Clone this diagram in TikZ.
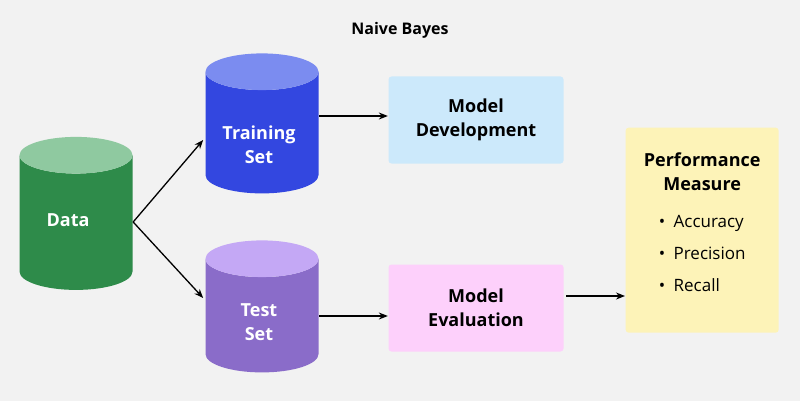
\documentclass[tikz,border=0pt]{standalone}
\usepackage{fontspec}
\setmainfont{Open Sans}
\usetikzlibrary{positioning,shapes.geometric,arrows.meta}
\definecolor{bgcol}{HTML}{F2F2F2}
\definecolor{datab}{HTML}{2E8B4A}
\definecolor{datat}{HTML}{8FC9A0}
\definecolor{trainb}{HTML}{3347E0}
\definecolor{traint}{HTML}{7B8CF0}
\definecolor{testb}{HTML}{8A6CC9}
\definecolor{testt}{HTML}{C4A8F5}
\definecolor{devcol}{HTML}{CCE9FB}
\definecolor{evalcol}{HTML}{FDD0FB}
\definecolor{perfcol}{HTML}{FDF3B8}
\tikzset{%
  store/.style={
    cylinder, shape border rotate=90, aspect=5.5,
    minimum width=113pt, minimum height=140pt,
    cylinder uses custom fill, draw=none,
    text=white, font=\fontsize{18}{24}\selectfont\bfseries,
    align=center
  },
  stage/.style={
    rounded corners=3pt, minimum width=175pt, minimum height=87pt,
    align=center, font=\fontsize{18}{24}\selectfont\bfseries
  },
}
\begin{document}
\begin{tikzpicture}[x=1pt,y=-1pt,>={Stealth[length=9pt,width=7pt]},line width=1.3pt]
  \fill[bgcol] (0,0) rectangle (800,401);

  \node[font=\fontsize{16}{20}\selectfont\bfseries] (title) at (400,30) {Naive Bayes};

  \node[store, cylinder body fill=datab, cylinder end fill=datat,
        minimum height=153pt] (data) at (76,226) {};
  \node[store, cylinder body fill=trainb, cylinder end fill=traint] (train) at (262,136) {};
  \node[store, cylinder body fill=testb, cylinder end fill=testt,
        minimum height=132pt] (test) at (262,319) {};
  \node[store, draw=none, fill=none, shape=rectangle, minimum size=0pt] (datat) at (68,220) {Data};
  \node[store, draw=none, fill=none, shape=rectangle, minimum size=0pt] (traint) at (259,145) {Training\\Set};
  \node[store, draw=none, fill=none, shape=rectangle, minimum size=0pt] (testt) at (259,322) {Test\\Set};

  \node[stage, fill=devcol] (dev) at (476,120) {Model\\Development};
  \node[stage, fill=evalcol] (eval) at (476,308) {Model\\Evaluation};

  \node[rounded corners=3pt, fill=perfcol, minimum width=153pt, minimum height=205pt,
        anchor=north west] (perf) at (625,127) {};
  \node[font=\fontsize{18}{24}\selectfont\bfseries, align=center, below=22pt of perf.north] (ptitle) {Performance\\Measure};
  \node[font=\fontsize{17}{32}\selectfont, align=left, below=16pt of ptitle] (plist)
    {\textbullet\enspace Accuracy\\\textbullet\enspace Precision\\\textbullet\enspace Recall};

  \draw[->] (data.east) ++(0,-4) coordinate (d1) -- ++(70,-82) coordinate (d2);
  \draw[->] (d1) -- ++(70,76) coordinate (d3);
  \draw[->] (train.east |- dev.west) ++(0,-4) coordinate (t1) -- (dev.west |- t1);
  \draw[->] (test.east |- eval.west) ++(0,8) coordinate (s1) -- (eval.west |- s1);
  \draw[->] (eval.east) ++(2,-12) coordinate (e2) -- (perf.west |- e2);
\end{tikzpicture}
\end{document}
